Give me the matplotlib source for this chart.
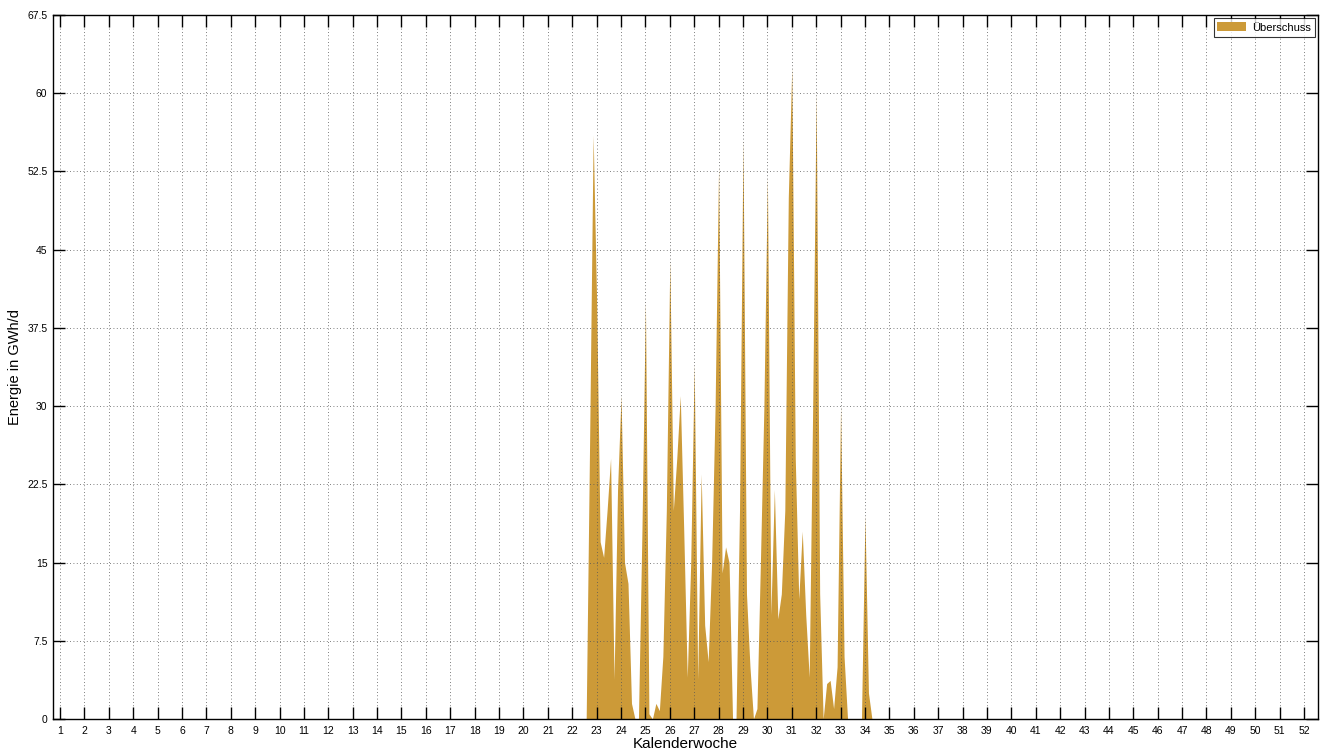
import numpy as np
import matplotlib.pyplot as plt
from matplotlib.ticker import FuncFormatter

# daily surplus in GWh/d, first value sits at week 22 + 3/7
start_week = 22 + 3 / 7
surplus = [0, 0, 27, 56, 40, 17, 15.5, 20, 25, 3.8,
           22, 31, 15, 13, 1.5, 0, 0, 18, 40, 0.5,
           0, 1.5, 0.8, 6, 20, 44, 20, 25, 31, 18,
           4, 15, 34, 3.8, 23.5, 9, 5.5, 15, 30, 53,
           14, 16.5, 15, 0, 0, 20, 55.5, 12, 5, 0,
           1, 15, 30, 52, 10, 22, 9.6, 12, 20, 50,
           62.5, 25, 11.5, 18, 10, 4, 30, 60, 12, 0,
           3.4, 3.7, 1, 5, 30, 6, 0, 0, 0, 0,
           0, 19.5, 2.5, 0]
weeks = np.arange(1, 53)
y_ticks = np.arange(0, 67.6, 7.5)

plt.rcParams['font.family'] = ['Liberation Sans', 'DejaVu Sans']

x = start_week + np.arange(len(surplus)) / 7

fig = plt.figure(figsize=(13.28, 7.51), dpi=100)
ax = fig.add_axes([0.0399, 0.0426, 0.9526, 0.9374])

ax.fill_between(x, surplus, color='#CC9A38', linewidth=0, label='Überschuss')

ax.set_xlim(0.713, 52.574)
ax.set_ylim(0, 67.5)
ax.set_xticks(weeks)
ax.set_yticks(y_ticks)
ax.yaxis.set_major_formatter(FuncFormatter(lambda v, p: '%g' % v))

ax.grid(True, color='#555555', linestyle=(0, (1, 3)), linewidth=0.6)
ax.tick_params(direction='in', length=8.5, width=1.0, labelsize=7.5,
               top=True, right=True)
ax.tick_params(axis='x', pad=5)
ax.tick_params(axis='y', pad=4)
for s in ax.spines.values():
    s.set_linewidth(1.0)

ax.set_xlabel('Kalenderwoche', fontsize=11, labelpad=1)
ax.set_ylabel('Energie in GWh/d', fontsize=10.5, labelpad=4)

leg = ax.legend(loc='upper right', fontsize=8, frameon=True, fancybox=False,
                edgecolor='black', handlelength=2.6, handleheight=0.9,
                handletextpad=0.5, borderpad=0.35, borderaxespad=0.3)
leg.get_frame().set_linewidth(0.8)

fig.savefig('out.png', dpi=100)
